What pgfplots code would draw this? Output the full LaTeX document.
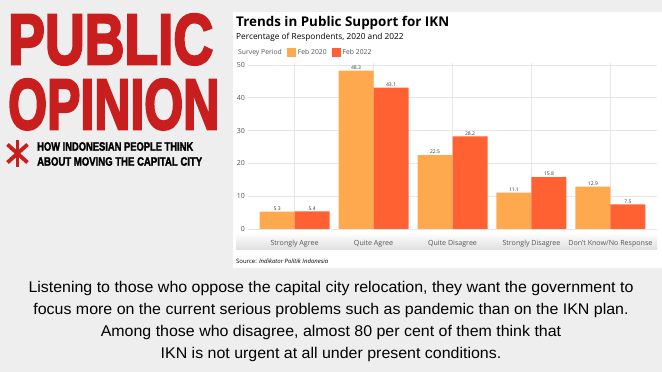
\documentclass[border=0pt]{standalone}
\usepackage{pgfplots}
\pgfplotsset{compat=1.18}
\usepackage{fontspec}
\setmainfont{Open Sans}
\newfontfamily\headfont{Liberation Sans}[BoldFeatures={FakeBold=3.5}]
\newfontfamily\subheadfont{Liberation Sans}[BoldFeatures={FakeBold=2.2}]
\newfontfamily\bodyfont{Liberation Sans}
\definecolor{bggray}{HTML}{EEEEEE}
\definecolor{headred}{HTML}{C81E1E}
\definecolor{cA}{HTML}{FFA94F}
\definecolor{cB}{HTML}{FF6132}
\definecolor{gridc}{HTML}{E6E6E6}
\definecolor{ticktext}{HTML}{555555}
\pgfplotsset{sqlegend/.style={legend image code/.code={\fill[##1] (0pt,-4.5pt) rectangle (9pt,4.5pt);}}}
\newsavebox\lineone
\begin{document}
\sbox\lineone{\bodyfont\fontsize{15.5}{16}\selectfont Listening to those who oppose the capital city relocation, they want the government to}%
\pgfmathsetmacro\sfac{605/\the\wd\lineone}%
\begin{tikzpicture}[x=1pt,y=1pt]
\fill[bggray] (0,0) rectangle (662,372);
\fill[white] (233,104) rectangle (662,360);
\shade[top color=white, bottom color=black!13] (236,122) rectangle (657,139);
% header
\node[anchor=south west, inner sep=0, text=headred] at (8,307) {\resizebox{205pt}{50pt}{\headfont\bfseries PUBLIC}};
\node[anchor=south west, inner sep=0, text=headred] at (8,242) {\resizebox{211pt}{50pt}{\headfont\bfseries OPINION}};
\node[anchor=south west, inner sep=0] at (37,221) {\resizebox{156pt}{8.5pt}{\subheadfont\bfseries HOW INDONESIAN PEOPLE THINK}};
\node[anchor=south west, inner sep=0] at (37,206) {\resizebox{165pt}{8.5pt}{\subheadfont\bfseries ABOUT MOVING THE CAPITAL CITY}};
\begin{scope}[shift={(17.5,218.5)}, headred, line width=3.8pt]
\draw (0,-13.5) -- (0,13.5);
\draw (-10,-9) -- (10,9);
\draw (-10,9) -- (10,-9);
\end{scope}
% titles
\node[anchor=base west, inner sep=0] at (236,345.5) {\fontsize{13.4}{14}\selectfont\bfseries Trends in Public Support for IKN};
\node[anchor=base west, inner sep=0] at (236,332.5) {\fontsize{8.3}{9}\selectfont Percentage of Respondents, 2020 and 2022};
\node[anchor=base west, inner sep=0] at (236,108.5) {\fontsize{6}{7}\selectfont Source: \textit{Indikator Politik Indonesia}};
% bottom text
\begin{scope}[every node/.style={anchor=base, inner sep=0}]
\node at (331,79) {\scalebox{\sfac}[1]{\usebox\lineone}};
\node at (331,57) {\scalebox{\sfac}[1]{\bodyfont\fontsize{15.5}{16}\selectfont focus more on the current serious problems such as pandemic than on the IKN plan.}};
\node at (331,35) {\scalebox{\sfac}[1]{\bodyfont\fontsize{15.5}{16}\selectfont Among those who disagree, almost 80 per cent of them think that}};
\node at (331,13) {\scalebox{\sfac}[1]{\bodyfont\fontsize{15.5}{16}\selectfont IKN is not urgent at all under present conditions.}};
\end{scope}
\begin{axis}[
  at={(248pt,143pt)}, anchor=south west, scale only axis,
  width=409pt, height=166pt,
  xmin=-0.59, xmax=4.59, ymin=0, ymax=50.6,
  ybar=0pt, bar width=35pt,
  axis line style={draw=none},
  major tick length=0pt,
  xtick={0,1,2,3,4},
  xticklabels={Strongly Agree, Quite Agree, Quite Disagree, Strongly Disagree, Don't Know/No Response},
  ytick={0,10,20,30,40,50},
  xmajorgrids, ymajorgrids,
  major grid style={draw=gridc, line width=0.6pt},
  /pgf/number format/assume math mode=true,
  xticklabel style={font=\fontsize{7.1}{8}\selectfont, text=ticktext, anchor=base, yshift=-16.5pt, inner sep=0pt},
  yticklabel style={font=\fontsize{7}{8}\selectfont, text=ticktext, anchor=east, inner sep=0pt, xshift=-3pt},
  nodes near coords,
  nodes near coords style={font=\fontsize{5}{6}\selectfont, text=black!80, inner sep=1pt,
    /pgf/number format/.cd, fixed, fixed zerofill, precision=1, assume math mode=true},
  legend columns=3,
  legend style={at={(-0.0293,1.063)}, anchor=west, draw=none, fill=none,
    font=\fontsize{6.8}{7}\selectfont, text=ticktext, inner sep=0pt,
    /tikz/every even column/.append style={column sep=3pt}},
  legend cell align=left,
]
\addlegendimage{empty legend}
\addlegendentry{Survey Period}
\addplot[fill=cA, draw=none, sqlegend, bar shift=-17.5pt] coordinates {(0,5.3) (1,48.3) (2,22.5) (3,11.1) (4,12.9)};
\addlegendentry{Feb 2020}
\addplot[fill=cB, draw=none, sqlegend, bar shift=17.5pt] coordinates {(0,5.4) (1,43.1) (2,28.2) (3,15.8) (4,7.5)};
\addlegendentry{Feb 2022}
\end{axis}
\end{tikzpicture}
\end{document}
